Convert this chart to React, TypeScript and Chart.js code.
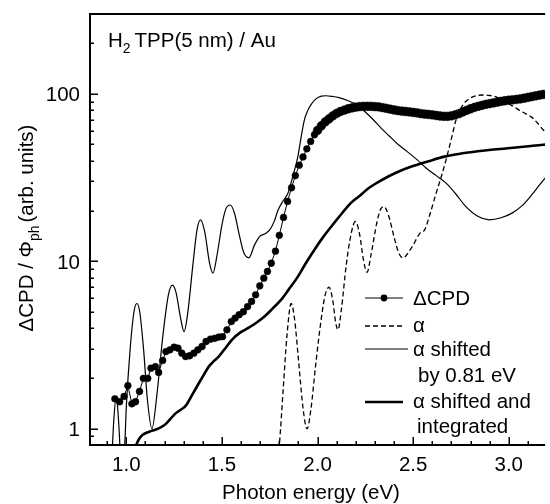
import { useEffect, useRef } from 'react';
import { Chart, registerables } from 'chart.js';

Chart.register(...registerables);

// ---- data ----
const cpdX = [0.94, 0.965, 0.988, 1.008, 1.029, 1.048, 1.069, 1.089, 1.112, 1.129, 1.152, 1.169, 1.19, 1.207, 1.228, 1.25, 1.27, 1.29, 1.31, 1.331, 1.353, 1.374, 1.396, 1.417, 1.44, 1.462, 1.483, 1.503, 1.526, 1.549, 1.569, 1.59, 1.612, 1.634, 1.655, 1.676, 1.698, 1.719, 1.738, 1.758, 1.78, 1.8, 1.822, 1.843, 1.864, 1.884, 1.904, 1.924, 1.944, 1.964, 1.984,
  2.0, 2.02, 2.04, 2.06, 2.08, 2.1, 2.12, 2.14, 2.16, 2.18, 2.2, 2.22, 2.24, 2.26, 2.28, 2.3, 2.32, 2.34, 2.36, 2.38, 2.4, 2.42, 2.44, 2.46, 2.48, 2.5, 2.52, 2.54, 2.56, 2.58, 2.6, 2.62, 2.64, 2.66, 2.68, 2.7, 2.72, 2.74, 2.76, 2.78, 2.8, 2.82, 2.84, 2.86, 2.88, 2.9, 2.92, 2.94, 2.96, 2.98, 3.0, 3.02, 3.04, 3.06, 3.08, 3.1, 3.12, 3.14, 3.16, 3.18];
const cpdY = [1.51, 1.45, 1.56, 1.81, 1.41, 1.45, 1.67, 2.0, 2.0, 2.3, 2.35, 2.17, 2.56, 2.89, 2.96, 3.07, 3.03, 2.83, 2.7, 2.73, 2.83, 2.96, 3.1, 3.32, 3.43, 3.47, 3.53, 3.55, 3.9, 4.37, 4.58, 4.8, 5.0, 5.37, 5.76, 6.31, 7.14, 7.93, 8.7, 9.74, 11.5, 14.3, 18.3, 22.8, 27.5, 32.5, 37.5, 42, 47, 52, 57,
  60.5, 64.5, 68, 71, 74, 76.5, 78.5, 80, 81.5, 82.5, 83.3, 84, 84.2, 84.3, 84.2, 84, 83.6, 82.8, 82, 81, 80.2, 79.5, 79, 78.5, 78, 77.5, 77, 76.3, 75.8, 75.4, 75, 74.3, 73.8, 73.5, 73.5, 74, 75, 76.3, 78, 79.8, 81.5, 83, 84.3, 85.5, 86.6, 87.5, 88.3, 89.2, 90.2, 91, 91.7, 92.2, 92.7, 93.3, 94.2, 95.2, 96.3, 97.3, 98.3, 99.3];

const alphaX = [1.785, 1.8, 1.82, 1.84, 1.862, 1.88, 1.9, 1.925, 1.945, 1.965, 1.99, 2.02, 2.04, 2.06, 2.08, 2.095, 2.107, 2.125, 2.15, 2.175, 2.198, 2.22, 2.24, 2.259, 2.28, 2.31, 2.33, 2.348, 2.37, 2.4, 2.425, 2.448, 2.475, 2.5, 2.535, 2.56, 2.59, 2.62, 2.647, 2.672, 2.7, 2.724, 2.745, 2.767, 2.8, 2.83, 2.862, 2.9, 2.931, 2.97, 3.01, 3.052, 3.09, 3.121, 3.15, 3.181, 3.2];
const alphaY = [0.6, 0.8, 1.7, 3.6, 5.6, 4.5, 2.6, 1.3, 1.0, 1.3, 2.4, 4.6, 6.3, 7.0, 5.8, 4.3, 3.9, 5.2, 9.5, 14.5, 17.3, 14.5, 10.2, 8.6, 11, 17, 20.5, 21.2, 19, 14, 11.2, 10.5, 11.3, 12.5, 14.7, 15.4, 19.5, 25.5, 32, 40.4, 54, 69.8, 80, 88, 94.5, 97.5, 98.5, 97.8, 96.3, 91, 86, 80.3, 76, 72.4, 67, 60.9, 58.5];

const shiftX = [0.925, 0.935, 0.945, 0.953, 0.962, 0.97, 0.991, 1.0, 1.02, 1.04, 1.055, 1.07, 1.09, 1.11, 1.134, 1.16, 1.19, 1.22, 1.241, 1.26, 1.285, 1.302, 1.32, 1.35, 1.37, 1.388, 1.41, 1.435, 1.453, 1.475, 1.5, 1.52, 1.543, 1.565, 1.59, 1.615, 1.641, 1.67, 1.698, 1.725, 1.75, 1.775, 1.793, 1.82, 1.845, 1.87, 1.897, 1.915, 1.931, 1.95, 1.965, 1.99, 2.02, 2.043, 2.08, 2.112, 2.16, 2.207, 2.25, 2.293, 2.335, 2.379, 2.42, 2.466, 2.52, 2.569, 2.62, 2.672, 2.72, 2.776, 2.84, 2.897, 2.96, 3.017, 3.07, 3.121, 3.16, 3.2];
const shiftY = [0.7, 1.15, 1.5, 1.4, 1.0, 0.7, 0.8, 1.36, 3.0, 5.0, 5.6, 5.0, 3.0, 1.5, 1.0, 1.6, 3.5, 6.3, 7.2, 6.5, 4.5, 3.8, 4.8, 10, 15.5, 17.7, 15, 9.8, 8.5, 11, 16.5, 20.5, 21.7, 19.5, 14.5, 11.2, 10.5, 12.5, 14.1, 14.6, 15.4, 17.5, 20.2, 23, 25.5, 32, 42.2, 56, 69.8, 80, 86, 93, 97, 97.5, 96.5, 95, 91, 86, 78, 69.8, 62, 55.5, 50, 45.5, 40.5, 36, 32.5, 29.3, 25.5, 21.2, 18.5, 17.7, 18.2, 19.4, 21.5, 25, 28.5, 32.5];

const integX = [1.045, 1.052, 1.07, 1.086, 1.12, 1.155, 1.18, 1.207, 1.235, 1.259, 1.285, 1.31, 1.345, 1.379, 1.405, 1.431, 1.46, 1.483, 1.52, 1.552, 1.595, 1.638, 1.68, 1.724, 1.767, 1.81, 1.85, 1.897, 1.94, 1.983, 2.03, 2.086, 2.13, 2.172, 2.216, 2.27, 2.336, 2.41, 2.491, 2.58, 2.664, 2.75, 2.837, 2.92, 3.009, 3.09, 3.18, 3.2];
const integY = [0.75, 0.8, 0.88, 0.92, 0.96, 0.99, 1.02, 1.07, 1.16, 1.24, 1.3, 1.37, 1.6, 1.87, 2.1, 2.35, 2.55, 2.7, 3.05, 3.4, 3.75, 4.0, 4.3, 4.7, 5.25, 5.9, 6.8, 8.1, 9.8, 11.7, 14, 16.9, 19.5, 22.2, 24.4, 27.5, 30.6, 33.8, 36.8, 39.6, 42.2, 44, 45.4, 46.5, 47.5, 48.5, 49.7, 49.9];

const xTickValues = [1.0, 1.5, 2.0, 2.5, 3.0];
const xTickLabels = ['1.0', '1.5', '2.0', '2.5', '3.0'];
const yTickValues = [1, 10, 100];
const yTickLabels = ['1', '10', '100'];
const xMin = 0.81;
const xMax = 3.19;
const yMin = 0.8;
const yMax = 300;

const FONT = '"Liberation Sans", Arial, Helvetica, sans-serif';
const FS = 20.5;

type Part = { t: string; sub?: boolean; gap?: number };

function richWidth(ctx: CanvasRenderingContext2D, parts: Part[], size: number) {
  let w = 0;
  for (const p of parts) {
    ctx.font = `${p.sub ? size * 0.68 : size}px ${FONT}`;
    w += ctx.measureText(p.t).width + (p.gap || 0);
  }
  return w;
}

function drawRich(ctx: CanvasRenderingContext2D, parts: Part[], x: number, y: number, size: number, align: 'left' | 'center' | 'right') {
  const total = richWidth(ctx, parts, size);
  let cx = align === 'left' ? x : align === 'center' ? x - total / 2 : x - total;
  ctx.textAlign = 'left';
  ctx.textBaseline = 'alphabetic';
  for (const p of parts) {
    ctx.font = `${p.sub ? size * 0.68 : size}px ${FONT}`;
    ctx.fillText(p.t, cx, p.sub ? y + size * 0.27 : y);
    cx += ctx.measureText(p.t).width + (p.gap || 0);
  }
}

const decorPlugin = {
  id: 'decor',
  afterDraw(chart: any) {
    const ctx: CanvasRenderingContext2D = chart.ctx;
    const { left, right, top, bottom } = chart.chartArea;
    const xs = chart.scales.x;
    const ys = chart.scales.y;
    ctx.save();
    ctx.strokeStyle = '#000';
    ctx.fillStyle = '#000';

    // axes frame
    ctx.lineWidth = 2;
    ctx.beginPath();
    ctx.moveTo(right, top);
    ctx.lineTo(left, top);
    ctx.lineTo(left, bottom);
    ctx.lineTo(right, bottom);
    ctx.stroke();

    // x ticks (inward)
    ctx.lineWidth = 1.5;
    for (let k = 9; k <= 31; k++) {
      const v = k / 10;
      const px = Math.round(xs.getPixelForValue(v)) + 0.25;
      const major = k % 5 === 0;
      ctx.beginPath();
      ctx.moveTo(px, bottom);
      ctx.lineTo(px, bottom - (major ? 8 : 4));
      ctx.stroke();
    }
    // y ticks (inward, log minor)
    for (const d of [0.1, 1, 10, 100]) {
      for (let m = 1; m <= 9; m++) {
        const v = d * m;
        if (v < yMin || v >= yMax) continue;
        const py = Math.round(ys.getPixelForValue(v)) + 0.25;
        const major = m === 1;
        ctx.beginPath();
        ctx.moveTo(left, py);
        ctx.lineTo(left + (major ? 8 : 4), py);
        ctx.stroke();
      }
    }

    // tick labels
    const cap = FS * 0.716;
    ctx.font = `${FS}px ${FONT}`;
    ctx.textBaseline = 'alphabetic';
    ctx.textAlign = 'center';
    xTickValues.forEach((v, i) => {
      ctx.fillText(xTickLabels[i], xs.getPixelForValue(v), 471);
    });
    ctx.textAlign = 'right';
    yTickValues.forEach((v, i) => {
      ctx.fillText(yTickLabels[i], left - 10, ys.getPixelForValue(v) + cap / 2);
    });

    // x title
    ctx.textAlign = 'center';
    ctx.fillText('Photon energy (eV)', 311, 499);

    // y title (rotated, with subscript)
    ctx.save();
    ctx.translate(33, 228);
    ctx.rotate(-Math.PI / 2);
    drawRich(ctx, [{ t: '\u0394CPD / \u03A6' }, { t: 'ph', sub: true, gap: 3 }, { t: '(arb. units)' }], 0, 0, FS, 'center');
    ctx.restore();

    // annotation top-left
    drawRich(ctx, [{ t: 'H' }, { t: '2', sub: true, gap: 4 }, { t: 'TPP(5 nm) / Au' }], 108, 47, FS, 'left');

    // legend
    const ds = chart.data.datasets;
    const lx0 = 365;
    const lx1 = 403;
    const tx = 413;
    const sample = (i: number, y: number, x1: number, r: number) => {
      const d = ds[i];
      ctx.save();
      ctx.strokeStyle = d.borderColor;
      ctx.lineWidth = d.borderWidth;
      ctx.setLineDash(d.borderDash || []);
      ctx.beginPath();
      ctx.moveTo(lx0, y);
      ctx.lineTo(x1, y);
      ctx.stroke();
      if (r > 0) {
        ctx.fillStyle = d.pointBackgroundColor;
        ctx.beginPath();
        ctx.arc((lx0 + x1) / 2, y, r, 0, Math.PI * 2);
        ctx.fill();
      }
      ctx.restore();
    };
    sample(0, 298, lx1, 3.4);
    sample(1, 326, lx1, 0);
    sample(2, 349, 408, 0);
    sample(3, 402, lx1, 0);
    ctx.font = `${FS}px ${FONT}`;
    ctx.textAlign = 'left';
    ctx.textBaseline = 'alphabetic';
    ctx.fillText('\u0394CPD', tx, 305);
    ctx.fillText('\u03B1', tx, 331.5);
    ctx.fillText('\u03B1 shifted', tx, 356);
    ctx.fillText('by 0.81 eV', 418, 381.5);
    ctx.fillText('\u03B1 shifted and', tx, 407.5);
    ctx.fillText('integrated', 417, 432.5);

    ctx.restore();
  },
};

export default function App() {
  const ref = useRef<HTMLCanvasElement | null>(null);
  useEffect(() => {
    if (!ref.current) return;
    const pts = (xs: number[], ys: number[]) => xs.map((x, i) => ({ x, y: ys[i] }));
    const chart = new Chart(ref.current, {
      type: 'scatter',
      data: {
        datasets: [
          {
            label: '\u0394CPD',
            data: pts(cpdX, cpdY),
            showLine: true,
            borderColor: '#000',
            borderWidth: 1,
            pointRadius: (c: any) => (c.raw && c.raw.x >= 2.0 ? 4.4 : 3.4),
            pointBackgroundColor: '#000',
            pointBorderColor: '#000',
            pointBorderWidth: 0.5,
            tension: 0,
          },
          {
            label: '\u03B1',
            data: pts(alphaX, alphaY),
            showLine: true,
            borderColor: '#000',
            borderWidth: 1.3,
            borderDash: [5, 3],
            pointRadius: 0,
            cubicInterpolationMode: 'monotone',
          },
          {
            label: '\u03B1 shifted by 0.81 eV',
            data: pts(shiftX, shiftY),
            showLine: true,
            borderColor: '#000',
            borderWidth: 1.2,
            pointRadius: 0,
            cubicInterpolationMode: 'monotone',
          },
          {
            label: '\u03B1 shifted and integrated',
            data: pts(integX, integY),
            showLine: true,
            borderColor: '#000',
            borderWidth: 2.6,
            pointRadius: 0,
            cubicInterpolationMode: 'monotone',
          },
        ],
      } as any,
      options: {
        animation: false,
        responsive: false,
        maintainAspectRatio: false,
        devicePixelRatio: 1,
        layout: { padding: { left: 90, top: 14, right: 0, bottom: 59 } },
        plugins: { legend: { display: false }, tooltip: { enabled: false } },
        scales: {
          x: { type: 'linear', min: xMin, max: xMax, display: false },
          y: { type: 'logarithmic', min: yMin, max: yMax, display: false },
        },
      } as any,
      plugins: [decorPlugin],
    });
    return () => chart.destroy();
  }, []);
  return (
    <div style={{ position: 'fixed', left: 0, top: 0, width: 550, height: 504, background: '#fff' }}>
      <canvas ref={ref} width={550} height={504} style={{ display: 'block' }} />
    </div>
  );
}
